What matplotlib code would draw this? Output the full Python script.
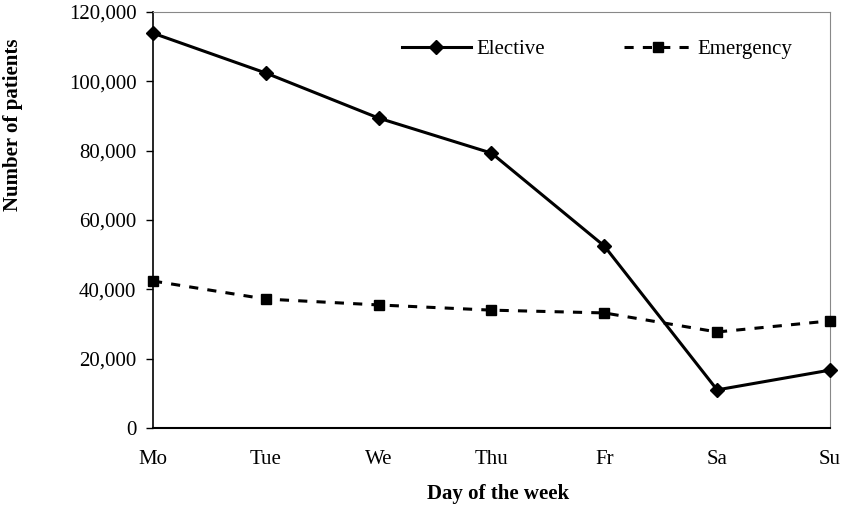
import matplotlib
matplotlib.use("Agg")
import matplotlib.pyplot as plt
from matplotlib.ticker import FuncFormatter

days = ["Mo", "Tue", "We", "Thu", "Fr", "Sa", "Su"]
elective = [113900, 102400, 89400, 79300, 52500, 11000, 16700]
emergency = [42400, 37200, 35500, 34000, 33200, 27700, 30900]

plt.rcParams["font.family"] = ["Liberation Serif", "DejaVu Serif"]

fig = plt.figure(figsize=(8.42, 5.09), dpi=100)
ax = fig.add_axes([0.1817, 0.1591, 0.804, 0.8173])

x = list(range(len(days)))
ax.plot(x, elective, color="black", linewidth=2.2, marker="D", markersize=7.5,
        label="Elective", clip_on=False, zorder=3)
ax.plot(x, emergency, color="black", linewidth=2.2, linestyle=(0, (3, 3)),
        marker="s", markersize=7, label="Emergency", clip_on=False, zorder=3)

ax.set_xlim(0, 6)
ax.set_ylim(0, 120000)
ax.set_xticks(x)
ax.set_xticklabels(days)
ax.set_yticks(range(0, 120001, 20000))
ax.yaxis.set_major_formatter(FuncFormatter(lambda v, p: f"{int(v):,}"))
ax.tick_params(axis="x", length=0, pad=16, labelsize=15)
ax.tick_params(axis="y", direction="out", length=5, width=1, labelsize=15, pad=7)

ax.spines["left"].set_color("black")
ax.spines["bottom"].set_color("black")
ax.spines["left"].set_linewidth(1.2)
ax.spines["bottom"].set_linewidth(1.5)
ax.spines["top"].set_color("#888888")
ax.spines["right"].set_color("#888888")

ax.set_xlabel("Day of the week", fontweight="bold", fontsize=15)
ax.xaxis.set_label_coords(0.509, -0.135)
ax.set_ylabel("Number of patients", fontweight="bold", fontsize=15)
ax.yaxis.set_label_coords(-0.192, 0.728)

ax.legend(loc="center left", ncol=2, frameon=False, fontsize=15,
          handlelength=3.3, handletextpad=0.25, columnspacing=3.8,
          borderpad=0, borderaxespad=0,
          bbox_to_anchor=(0.4774, 0.903), bbox_transform=fig.transFigure)

fig.savefig("out.png", dpi=100)
